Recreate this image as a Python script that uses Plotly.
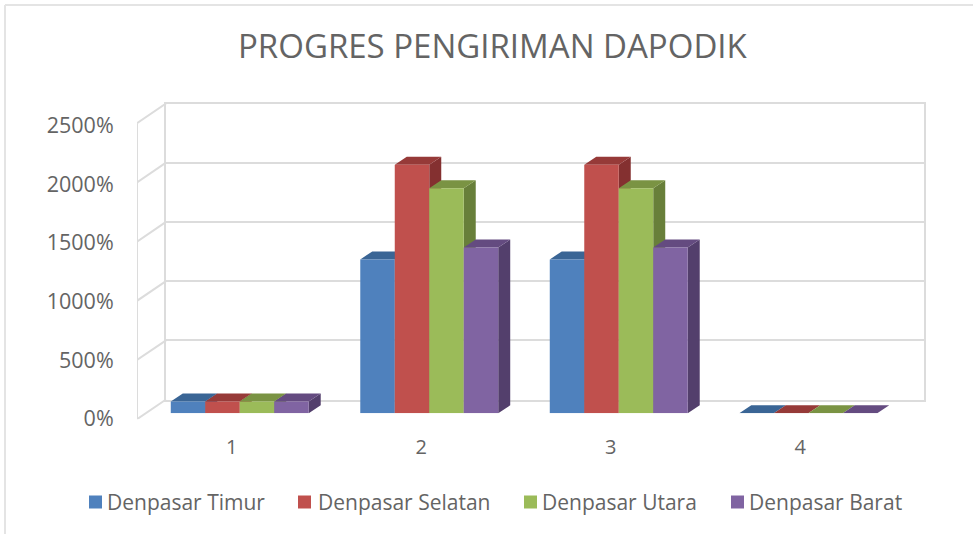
import plotly.graph_objects as go

# ---- data ----
categories = [1, 2, 3, 4]
series_names = ["Denpasar Timur", "Denpasar Selatan", "Denpasar Utara", "Denpasar Barat"]
timur = [100, 1300, 1300, 0]
selatan = [100, 2100, 2100, 0]
utara = [100, 1900, 1900, 0]
barat = [100, 1400, 1400, 0]
y_ticks = [0, 500, 1000, 1500, 2000, 2500]
y_labels = ["0%", "500%", "1000%", "1500%", "2000%", "2500%"]

# ---- style ----
W, H = 973, 534
front_col = ["#4F81BD", "#C0504D", "#9BBB59", "#8064A2"]
top_col = ["#3A6595", "#963A38", "#7A9343", "#644B80"]
side_col = ["#385D8A", "#843030", "#687F3A", "#533F6C"]
grid = "#DCDCDC"
text = "#646464"
font = "Open Sans"
px = lambda x: x / W
py = lambda y: 1 - y / H

series = [timur, selatan, utara, barat]
YMAX = y_ticks[-1]
CAT_PX = 189.5
VAL_PX = 296 / YMAX
GROUP = 0.728
BAR = GROUP / 4
bdx, bdy = 12 / CAT_PX, 8 / VAL_PX      # depth of a bar
wdx, wdy = 29 / CAT_PX, 19.7 / VAL_PX   # depth of the side wall

fig = go.Figure()

# invisible traces to activate the label axes and the back wall
fig.add_trace(go.Scatter(x=[1], y=[0], mode="markers", marker=dict(opacity=0), showlegend=False,
                         hoverinfo="skip", xaxis="x", yaxis="y"))
fig.add_trace(go.Scatter(x=[1], y=[0], mode="markers", marker=dict(opacity=0), showlegend=False,
                         hoverinfo="skip", xaxis="x2", yaxis="y2"))

# side wall: diagonals and front edge, on an axis pair spanning the wall
dx_line, dy_line = [], []
for v in y_ticks:
    dx_line += [0.5, 0.5 - wdx, None]
    dy_line += [v, v - wdy, None]
dx_line += [0.5 - wdx, 0.5 - wdx]
dy_line += [y_ticks[0] - wdy, y_ticks[-1] - wdy]
fig.add_trace(go.Scatter(x=dx_line, y=dy_line, mode="lines", cliponaxis=False, showlegend=False,
                         hoverinfo="skip", line=dict(color=grid, width=2), xaxis="x5", yaxis="y5"))

# depth faces, computed from the values
for i, (name, vals) in enumerate(zip(series_names, series)):
    sx, sy, tx, ty = [], [], [], []
    for c, v in zip(categories, vals):
        xl = c - GROUP / 2 + i * BAR
        xr = xl + BAR
        sx += [xr, xr + bdx, xr + bdx, xr, xr, None]
        sy += [0, bdy, v + bdy, v, 0, None]
        tx += [xl, xl + bdx, xr + bdx, xr, xl, None]
        ty += [v, v + bdy, v + bdy, v, v, None]
    for xs, ys, col in ((sx, sy, side_col[i]), (tx, ty, top_col[i])):
        fig.add_trace(go.Scatter(x=xs, y=ys, mode="lines", fill="toself", fillcolor=col,
                                 line=dict(width=0), cliponaxis=False, showlegend=False,
                                 hoverinfo="skip", xaxis="x3", yaxis="y3"))

# front faces
for i, (name, vals) in enumerate(zip(series_names, series)):
    fig.add_trace(go.Bar(x=categories, y=vals, name=name, marker=dict(color=front_col[i], line=dict(width=0)),
                         cliponaxis=False, showlegend=False, xaxis="x4", yaxis="y4"))

hidden = dict(visible=False, fixedrange=True, automargin=False)
cat_range = [0.5, 4.5]
front_dom_x = [px(137), px(895)]
bar_dom_x = [px(145), px(903)]
bar_dom_y = [py(413.3), py(117.3)]

# legend drawn at the reference's positions
legend_marker_x = [89, 298, 524, 731]
legend_text_x = [105, 316, 540, 747]
LEG_Y = 502
shapes = [dict(type="rect", xref="paper", yref="paper", x0=px(mx), x1=px(mx + 13), y0=py(LEG_Y + 6.5), y1=py(LEG_Y - 6.5),
               fillcolor=front_col[i], line=dict(width=0)) for i, mx in enumerate(legend_marker_x)]
# outer frame
shapes += [
    dict(type="line", xref="paper", yref="paper", x0=px(5), x1=px(5), y0=py(5), y1=py(534), line=dict(color="#E4E4E4", width=2)),
    dict(type="line", xref="paper", yref="paper", x0=px(5), x1=px(973), y0=py(5), y1=py(5), line=dict(color="#E4E4E4", width=2)),
]
annotations = [dict(text=n, xref="paper", yref="paper", x=px(tx), y=py(LEG_Y), xanchor="left", yanchor="middle",
                    showarrow=False, font=dict(family=font, size=21, color=text))
               for n, tx in zip(series_names, legend_text_x)]
annotations.append(dict(text="PROGRES PENGIRIMAN DAPODIK", xref="paper", yref="paper", x=px(493), y=py(46),
                        xanchor="center", yanchor="middle", showarrow=False,
                        font=dict(family=font, size=33, color=text)))

fig.update_layout(
    template="none",
    width=W, height=H, autosize=False, margin=dict(l=0, r=0, t=0, b=0, autoexpand=False),
    paper_bgcolor="white", plot_bgcolor="rgba(0,0,0,0)", showlegend=False,
    barmode="group", bargap=1 - GROUP, bargroupgap=0,
    shapes=shapes, annotations=annotations,
    xaxis=dict(domain=front_dom_x, range=cat_range, tickvals=categories, ticktext=[str(c) for c in categories],
               ticks="outside", ticklen=10, tickcolor="rgba(0,0,0,0)", showgrid=False, zeroline=False, showline=False,
               tickfont=dict(family=font, size=20, color=text), fixedrange=True, anchor="y", automargin=False),
    yaxis=dict(domain=[py(418.8), py(125.5)], range=[0, YMAX], tickvals=y_ticks, ticktext=y_labels,
               ticks="outside", ticklen=18, tickcolor="rgba(0,0,0,0)", showgrid=False, zeroline=False,
               showline=False,
               tickfont=dict(family=font, size=21.5, color=text), fixedrange=True, anchor="x", automargin=False),
    xaxis2=dict(domain=[px(166), px(924)], range=cat_range, showgrid=False, zeroline=False, showticklabels=False,
                ticks="", showline=True, mirror=True, linecolor=grid, linewidth=2, fixedrange=True, anchor="y2", automargin=False),
    yaxis2=dict(domain=[py(399.5), py(103.5)], range=[0, YMAX], tickvals=y_ticks, showgrid=True, gridcolor=grid, gridwidth=2,
                zeroline=False, showticklabels=False, ticks="", showline=True, mirror=True, linecolor=grid, linewidth=2,
                fixedrange=True, anchor="x2", automargin=False),
    xaxis3=dict(domain=bar_dom_x, range=cat_range, anchor="y3", **hidden),
    yaxis3=dict(domain=bar_dom_y, range=[0, YMAX], anchor="x3", **hidden),
    xaxis4=dict(domain=bar_dom_x, range=cat_range, anchor="y4", **hidden),
    yaxis4=dict(domain=bar_dom_y, range=[0, YMAX], anchor="x4", **hidden),
    xaxis5=dict(domain=[px(137), px(924)], range=[0.5 - wdx, 4.5], anchor="y5", **hidden),
    yaxis5=dict(domain=[py(419.2), py(103.5)], range=[-wdy, YMAX], anchor="x5", **hidden),
)

fig.write_html("out.html", config={"displayModeBar": False}, post_script="document.body.style.margin='0';")
